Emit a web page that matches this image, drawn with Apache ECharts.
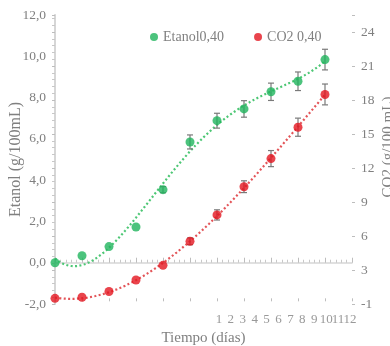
<!DOCTYPE html>
<html><head><meta charset="utf-8">
<script src="https://cdn.jsdelivr.net/npm/echarts@6/dist/echarts.min.js"></script>
<style>html,body{margin:0;padding:0;background:#fff}#c{width:390px;height:346px}</style>
</head><body><div id="c"></div>
<script>
const days = [0,1,2,3,4,5,6,7,8,9,10];
const etanol = [0.0,0.34,0.78,1.73,3.54,5.85,6.88,7.45,8.28,8.79,9.84];
const etanolErr = [0,0,0,0,0.15,0.34,0.36,0.40,0.42,0.45,0.50];
const co2 = [0.0,0.1,0.6,1.62,2.91,5.03,7.36,9.85,12.33,15.1,17.99];
const co2Err = [0,0,0,0,0,0.3,0.45,0.52,0.71,0.8,0.92];
const leftTicks = [-2,0,2,4,6,8,10,12];
const dayLabels = [1,2,3,4,5,6,7,8,9,10,11,12];

const FONT = 'Liberation Serif';
const GRAY = '#808080';
const LINEC = '#d6d6d6';

function polyfit(xs, ys, order){
  const n = order+1;
  const A = Array.from({length:n},()=>new Array(n).fill(0));
  const b = new Array(n).fill(0);
  for(let k=0;k<xs.length;k++){
    for(let i=0;i<n;i++){
      b[i] += ys[k]*Math.pow(xs[k],i);
      for(let j=0;j<n;j++) A[i][j] += Math.pow(xs[k],i+j);
    }
  }
  for(let i=0;i<n;i++){
    let p=i; for(let r=i+1;r<n;r++) if(Math.abs(A[r][i])>Math.abs(A[p][i])) p=r;
    [A[i],A[p]]=[A[p],A[i]]; [b[i],b[p]]=[b[p],b[i]];
    for(let r=i+1;r<n;r++){const f=A[r][i]/A[i][i]; for(let c=i;c<n;c++) A[r][c]-=f*A[i][c]; b[r]-=f*b[i];}
  }
  const x=new Array(n).fill(0);
  for(let i=n-1;i>=0;i--){let s=b[i]; for(let c=i+1;c<n;c++) s-=A[i][c]*x[c]; x[i]=s/A[i][i];}
  return x;
}
function trend(xs, ys, order){
  const co = polyfit(xs, ys, order);
  const out=[];
  for(let t=0;t<=100;t++){const x=xs[0]+(xs[xs.length-1]-xs[0])*t/100; let y=0; co.forEach((c,i)=>y+=c*Math.pow(x,i)); out.push([x,y]);}
  return out;
}
function errSeries(vals, errs, yIdx){
  return {
    type:'custom', xAxisIndex:0, yAxisIndex:yIdx, z:3, silent:true,
    data: days.map((d,i)=>[d, vals[i], errs[i]]).filter(r=>r[2]>0),
    renderItem:(params, api)=>{
      const x=api.value(0), y=api.value(1), e=api.value(2);
      const hi=api.coord([x,y+e]), lo=api.coord([x,y-e]);
      const w=3, st={stroke:'#7a7a7a', lineWidth:1.2};
      return {type:'group', children:[
        {type:'line', shape:{x1:hi[0],y1:hi[1],x2:lo[0],y2:lo[1]}, style:st},
        {type:'line', shape:{x1:hi[0]-w,y1:hi[1],x2:hi[0]+w,y2:hi[1]}, style:st},
        {type:'line', shape:{x1:lo[0]-w,y1:lo[1],x2:lo[0]+w,y2:lo[1]}, style:st}
      ]};
    }
  };
}
const lab = {color:GRAY, fontFamily:FONT, fontSize:13.5};

const chart = echarts.init(document.getElementById('c'), null, {renderer:'canvas'});
chart.setOption({
  animation:false,
  textStyle:{fontFamily:FONT},
  legend:{
    left:145, top:25, itemWidth:8, itemHeight:8, itemGap:30,
    textStyle:{color:GRAY, fontFamily:FONT, fontSize:14},
    data:[{name:'Etanol0,40', icon:'circle'},{name:'CO2 0,40', icon:'circle'}]
  },
  grid:[
    {left:55, right:38, top:15, bottom:42, containLabel:false, outerBoundsMode:'none'},
    {left:207, right:40, top:15, bottom:42, containLabel:false, outerBoundsMode:'none'}
  ],
  xAxis:[
    {gridIndex:0, type:'value', min:0, max:11, interval:1,
     axisLine:{show:true, lineStyle:{color:LINEC, width:1.5}},
     axisTick:{show:true, inside:true, length:5, lineStyle:{color:'#bdbdbd'}},
     minorTick:{show:true, splitNumber:5, length:3, lineStyle:{color:'#c8c8c8'}},
     axisLabel:{show:false}, splitLine:{show:false},
     name:'Tiempo (días)', nameLocation:'middle', nameGap:27, nameMoveOverlap:false,
     nameTextStyle:{color:GRAY, fontFamily:FONT, fontSize:15}},
    {gridIndex:0, type:'value', min:0, max:11, interval:1, position:'bottom',
     axisLine:{show:false}, axisTick:{show:true, inside:false, length:3, lineStyle:{color:'#bdbdbd'}},
     axisLabel:{show:false}, splitLine:{show:false}},
    {gridIndex:1, type:'value', min:0, max:12, show:false}
  ],
  yAxis:[
    {gridIndex:0, type:'value', min:leftTicks[0], max:leftTicks[leftTicks.length-1], interval:2,
     axisLine:{show:true, lineStyle:{color:LINEC, width:2}},
     axisTick:{show:false}, splitLine:{show:false},
     axisLabel:Object.assign({margin:9, formatter:v=>v.toFixed(1).replace('.',',')}, lab),
     name:'Etanol (g/100mL)', nameLocation:'middle', nameGap:31, nameRotate:90, nameMoveOverlap:false,
     nameTextStyle:{color:GRAY, fontFamily:FONT, fontSize:16}},
    {gridIndex:0, type:'value', min:-0.5, max:25, interval:3, position:'right',
     axisLine:{show:true, lineStyle:{color:LINEC, width:1.5}},
     axisTick:{show:true, inside:true, length:3, lineStyle:{color:'#bdbdbd'}},
     minorTick:{show:true, splitNumber:5, length:3, lineStyle:{color:'#c8c8c8'}},
     splitLine:{show:false},
     axisLabel:Object.assign({margin:9, formatter:v=>v>=25?'':String(Math.sign(v)*Math.round(Math.abs(v)))}, lab),
     name:'CO2 (g/100 mL)', nameLocation:'middle', nameGap:29, nameRotate:90, nameMoveOverlap:false,
     nameTextStyle:{color:GRAY, fontFamily:FONT, fontSize:15, padding:[0,0,0,25]}},
    {gridIndex:0, type:'value', min:-0.5, max:25, interval:3, position:'right',
     axisLine:{show:false}, axisTick:{show:true, inside:false, length:3, lineStyle:{color:'#bdbdbd'}},
     axisLabel:{show:false}, splitLine:{show:false}},
    {gridIndex:1, type:'value', min:0, max:1, show:false}
  ],
  series:[
    {name:'Etanol trend', type:'line', xAxisIndex:0, yAxisIndex:0, showSymbol:false, silent:true, z:2,
     data:trend(days, etanol, 4), lineStyle:{color:'#4cc774', width:2.2, type:[2,2.4]}},
    {name:'CO2 trend', type:'line', xAxisIndex:0, yAxisIndex:1, showSymbol:false, silent:true, z:2,
     data:trend(days, co2, 3), lineStyle:{color:'#e35458', width:2.2, type:[2,2.4]}},
    errSeries(etanol, etanolErr, 0),
    errSeries(co2, co2Err, 1),
    {name:'Etanol0,40', type:'scatter', xAxisIndex:0, yAxisIndex:0, symbolSize:9, z:4,
     itemStyle:{color:'#1fb45c'}, data:days.map((d,i)=>[d, etanol[i]])},
    {name:'CO2 0,40', type:'scatter', xAxisIndex:0, yAxisIndex:1, symbolSize:9, z:4,
     itemStyle:{color:'#e3151f'}, data:days.map((d,i)=>[d, co2[i]])},
    {name:'dayLabels', type:'scatter', xAxisIndex:2, yAxisIndex:3, symbolSize:1, silent:true, z:5,
     itemStyle:{color:'rgba(0,0,0,0)'},
     label:{show:true, position:'bottom', distance:9, color:GRAY, fontFamily:FONT, fontSize:13,
       formatter:p=>String(p.value[0])},
     labelLayout:{hideOverlap:false},
     data:dayLabels.map(d=>[d,0])}
  ]
});
</script></body></html>
